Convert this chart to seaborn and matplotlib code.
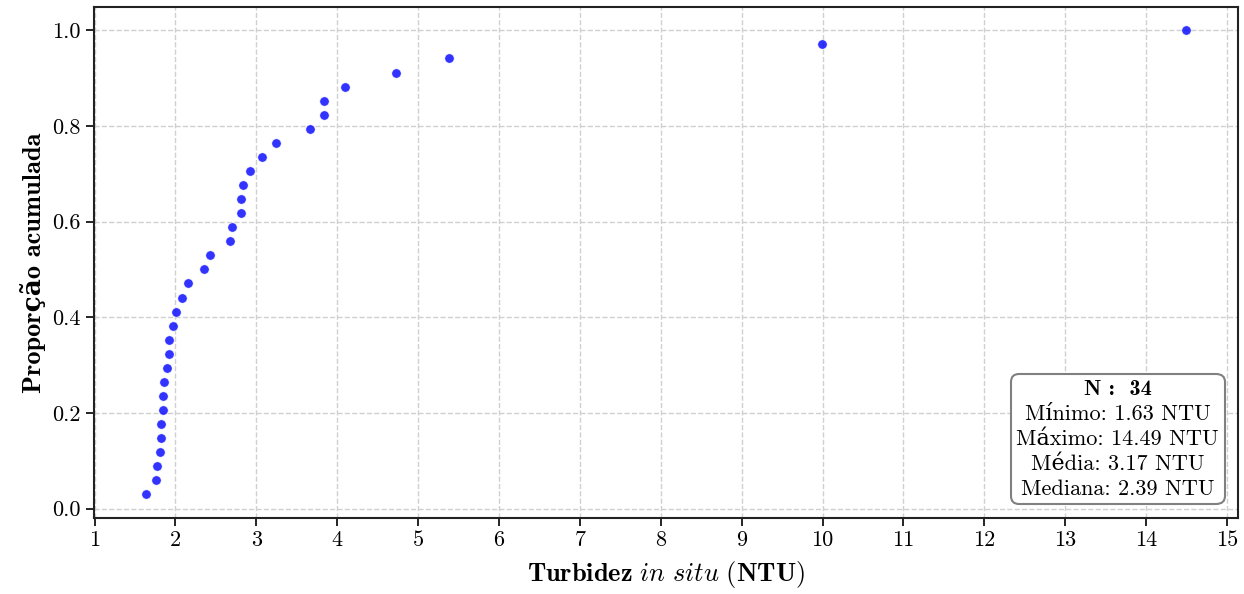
import numpy as np
import pandas as pd
import matplotlib
matplotlib.use("Agg")
import matplotlib.pyplot as plt
from matplotlib.offsetbox import TextArea, VPacker, AnchoredOffsetbox
import seaborn as sns

# Turbidity values (NTU), sorted
turbidez = [1.63, 1.76, 1.77, 1.81, 1.82, 1.82, 1.85, 1.85, 1.86, 1.89,
            1.92, 1.92, 1.97, 2.01, 2.08, 2.15, 2.35, 2.43, 2.68, 2.70,
            2.81, 2.81, 2.83, 2.92, 3.07, 3.24, 3.66, 3.83, 3.84, 4.09,
            4.73, 5.38, 9.99, 14.49]
x_ticks = list(range(1, 16))
y_ticks = [0.0, 0.2, 0.4, 0.6, 0.8, 1.0]
stats_labels = ["Mínimo", "Máximo", "Média", "Mediana"]
stats_values = [1.63, 14.49, 3.17, 2.39]
n_amostras = 34

sns.set_style("ticks")
plt.rcParams["font.family"] = ["cmr10", "DejaVu Serif"]
plt.rcParams["mathtext.fontset"] = "cm"
plt.rcParams["axes.formatter.use_mathtext"] = True
plt.rcParams["axes.unicode_minus"] = False
plt.rcParams["text.color"] = "black"
plt.rcParams["axes.labelcolor"] = "black"
plt.rcParams["xtick.color"] = "black"
plt.rcParams["ytick.color"] = "black"

x = np.sort(np.array(turbidez))
prop = np.arange(1, len(x) + 1) / len(x)
df = pd.DataFrame({"turb": x, "prop": prop})

fig, ax = plt.subplots(figsize=(12.44, 5.94), dpi=100)
fig.subplots_adjust(left=0.0752, right=0.995, top=0.988, bottom=0.1285)

sns.scatterplot(data=df, x="turb", y="prop", ax=ax, color="blue", alpha=0.8,
                s=45, edgecolor="white", linewidth=0.4, zorder=3)

ax.set_xticks(x_ticks)
ax.set_yticks(y_ticks)
ax.set_xticklabels([str(t) for t in x_ticks])
ax.set_yticklabels([f"{t:.1f}" for t in y_ticks])
ax.tick_params(axis="both", labelsize=16, length=6, width=1.2, color="black",
               labelcolor="black")
ax.grid(True, linestyle="--", color="#d0d0d0", linewidth=1.0)
for sp in ax.spines.values():
    sp.set_visible(True)
    sp.set_color("#222222")
    sp.set_linewidth(1.5)

ax.set_xlabel(r"$\mathbf{Turbidez}\ \mathit{in\ situ}\ \mathbf{(NTU)}$", fontsize=19,
              labelpad=6, color="black")
ax.set_ylabel("Proporção acumulada", fontsize=19, fontweight="bold",
              family=["cmb10", "DejaVu Serif"], labelpad=4, color="black")

bold_family = ["cmb10", "DejaVu Serif"]
children = [TextArea(f"N :  {n_amostras}",
                     textprops=dict(fontsize=16, family=bold_family, fontweight="bold",
                                    color="black"))]
for lab, val in zip(stats_labels, stats_values):
    children.append(TextArea(f"{lab}: {val:.2f} NTU",
                             textprops=dict(fontsize=16, color="black")))
pack = VPacker(children=children, align="center", pad=0, sep=4)
box = AnchoredOffsetbox(loc="lower right", child=pack, pad=0.4, borderpad=0.95,
                        frameon=True, bbox_to_anchor=(1.0, 0.0),
                        bbox_transform=ax.transAxes)
box.patch.set_boxstyle("round,pad=0.0,rounding_size=0.6")
box.patch.set_edgecolor("gray")
box.patch.set_linewidth(1.5)
box.patch.set_facecolor("white")
box.set_zorder(5)
ax.add_artist(box)

fig.savefig("out.png", dpi=100)
